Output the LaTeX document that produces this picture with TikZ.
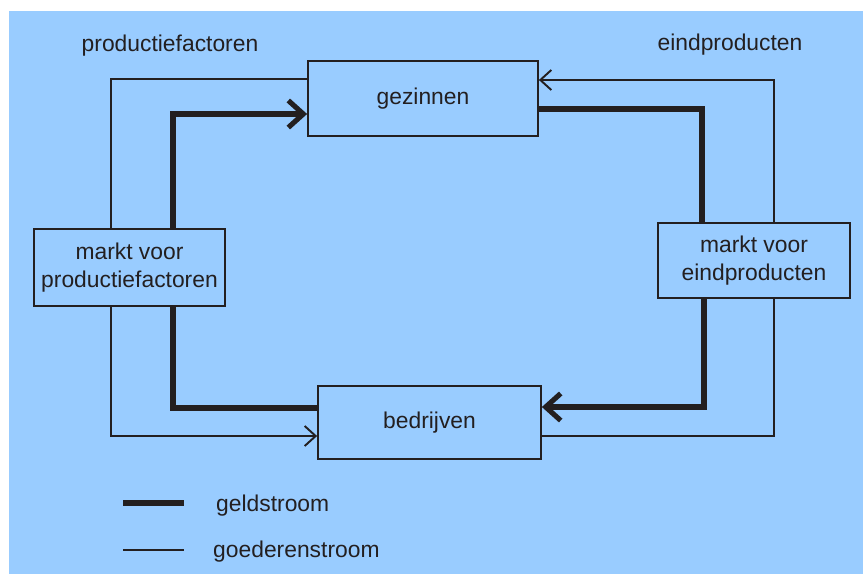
\documentclass[tikz,border=0pt]{standalone}
\usepackage{fontspec}
\setmainfont{Liberation Sans}
\usetikzlibrary{arrows.meta}
\definecolor{achtergrond}{HTML}{99CCFF}
\definecolor{lijn}{HTML}{231F20}

\begin{document}
\begin{tikzpicture}[
    font=\fontsize{13}{15.5}\selectfont,
    block/.style={rectangle, draw=lijn, line width=1pt, align=center, text=lijn},
    geld/.style={draw=lijn, line width=2.9pt},
    goed/.style={draw=lijn, line width=1.1pt},
    geldpijl/.style={geld, -{Straight Barb[length=0.3cm, width=0.54cm]}},
    goedpijl/.style={goed, -{Straight Barb[length=0.22cm, width=0.4cm]}},
    label/.style={text=lijn}
]
\useasboundingbox (0,0) rectangle (17.26,11.48);
\fill[achtergrond] (0.18,0) rectangle (17.26,11.26);

% Blokken
\node[block, minimum width=4.6cm, minimum height=1.5cm] (gezinnen) at (8.46,9.51) {gezinnen};
\node[block, minimum width=4.46cm, minimum height=1.46cm] (bedrijven) at (8.59,3.03) {bedrijven};
\node[block, minimum width=3.82cm, minimum height=1.54cm] (mpf) at (2.59,6.13) {markt voor\\productiefactoren};
\node[block, minimum width=3.84cm, minimum height=1.5cm] (mep) at (15.08,6.27) {markt voor\\eindproducten};

\node[label] (lpf) at (3.4,10.56) {productiefactoren};
\node[label] (lep) at (14.6,10.58) {eindproducten};

% Geldstroom
\draw[geldpijl] (mpf.north -| 3.46,0) |- (gezinnen.west |- 0,9.2);
\draw[geld] (gezinnen.east |- 0,9.3) -| (mep.north -| 14.04,0);
\draw[geldpijl] (mep.south -| 14.08,0) |- (bedrijven.east |- 0,3.34);
\draw[geld] (bedrijven.west |- 0,3.32) -| (mpf.south -| 3.46,0);

% Goederenstroom
\draw[goed] (gezinnen.west |- 0,9.9) -| (mpf.north -| 2.22,0);
\draw[goedpijl] (mpf.south -| 2.22,0) |- (bedrijven.west |- 0,2.76);
\draw[goed] (bedrijven.east |- 0,2.76) -| (mep.south -| 15.48,0);
\draw[goedpijl] (mep.north -| 15.48,0) |- (gezinnen.east |- 0,9.88);

% Legenda
\coordinate (g1) at (2.46,1.42);
\coordinate (g2) at (3.68,1.42);
\coordinate (s1) at (2.46,0.48);
\coordinate (s2) at (3.68,0.48);
\node[label, anchor=west] (lgeld) at (4.2,1.36) {geldstroom};
\node[label, anchor=west] (lgoed) at (4.14,0.44) {goederenstroom};
\draw[geld] (g1) -- (g2);
\draw[goed] (s1) -- (s2);

\end{tikzpicture}
\end{document}
